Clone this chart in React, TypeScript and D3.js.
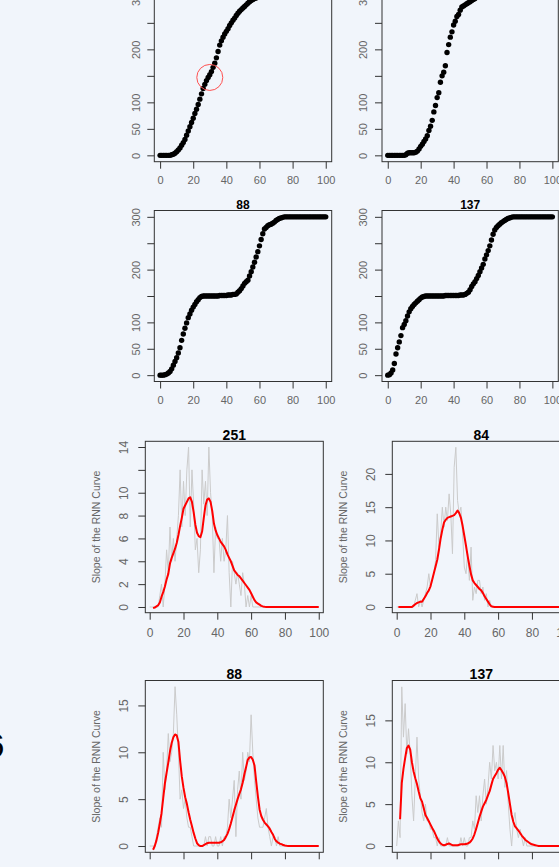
import React, { useEffect, useRef } from "react";
import * as d3 from "d3";

const W = 559;
const H = 867;
const BG = "#f1f5fb";
const AXIS = "#333";
const LABEL = "#666";
const FONT = "'Liberation Sans', Arial, sans-serif";

const xTicks = [0, 20, 40, 60, 80, 100];
const cumTicks = [0, 50, 100, 150, 200, 250, 300];
const cumLabels = [0, 50, 100, 200, 300];

// cumulative curves, one value per time step 0..100
const cum251 = [
  0, 0, 0, 0, 0, 0, 0, 1, 2, 4,
  7, 10, 14, 19, 24, 30, 38, 46, 54, 62,
  70, 79, 87, 96, 106, 116, 126, 134, 141, 147,
  152, 158, 166, 174, 184, 196, 208, 216, 223, 229,
  234, 239, 245, 250, 255, 259, 264, 268, 272, 275,
  278, 281, 284, 287, 290, 292, 294, 296, 297, 298,
  299, 300, 300, 300, 300, 300, 300, 300, 300, 300,
  300, 300, 300, 300, 300, 300, 300, 300, 300, 300,
  300, 300, 300, 300, 300, 300, 300, 300, 300, 300,
  300, 300, 300, 300, 300, 300, 300, 300, 300, 300,
  300,
];
const cum84 = [
  0, 0, 0, 0, 0, 0, 0, 0, 0, 0,
  0, 1, 4, 5, 5, 5, 5, 6, 8, 12,
  17, 21, 26, 31, 37, 47, 55, 66, 82, 94,
  109, 118, 138, 150, 157, 169, 194, 209, 223, 233,
  246, 253, 262, 266, 274, 280, 282, 284, 286, 288,
  290, 292, 294, 296, 298, 299, 300, 300, 300, 300,
  300, 300, 300, 300, 300, 300, 300, 300, 300, 300,
  300, 300, 300, 300, 300, 300, 300, 300, 300, 300,
  300, 300, 300, 300, 300, 300, 300, 300, 300, 300,
  300, 300, 300, 300, 300, 300, 300, 300, 300, 300,
  300,
];
const cum88 = [
  0, 0, 0, 1, 2, 4, 7, 12, 19, 26,
  33, 42, 52, 66, 78, 89, 99, 109, 116, 123,
  129, 134, 139, 143, 147, 149, 150, 150, 150, 150,
  150, 150, 150, 150, 150, 150, 151, 151, 151, 151,
  151, 152, 152, 152, 153, 153, 154, 157, 160, 164,
  169, 174, 177, 180, 188, 196, 205, 214, 224, 234,
  245, 257, 268, 277, 280, 283, 285, 286, 288, 290,
  293, 295, 297, 298, 299, 300, 300, 300, 300, 300,
  300, 300, 300, 300, 300, 300, 300, 300, 300, 300,
  300, 300, 300, 300, 300, 300, 300, 300, 300, 300,
  300,
];
const cum137 = [
  0, 1, 4, 10, 22, 40, 52, 63, 75, 90,
  96, 103, 112, 120, 126, 130, 134, 137, 140, 143,
  146, 148, 149, 150, 150, 150, 150, 150, 150, 150,
  150, 150, 150, 150, 150, 151, 151, 151, 151, 151,
  151, 151, 151, 151, 152, 152, 152, 153, 155, 157,
  162, 168, 173, 177, 183, 189, 196, 203, 210, 220,
  228, 236, 245, 256, 267, 275, 280, 283, 286, 289,
  291, 293, 295, 297, 298, 299, 300, 300, 300, 300,
  300, 300, 300, 300, 300, 300, 300, 300, 300, 300,
  300, 300, 300, 300, 300, 300, 300, 300, 300, 300,
  300,
];

// raw slope (grey)
const raw251 = [
  0, 0, 0, 0, 0, 0, 1, 2, 0, 2,
  5, 3, 7, 4, 6, 4, 6, 8, 12, 7,
  11, 8, 12, 14, 7, 12, 9, 5, 6, 3,
  5, 12, 9, 11, 8, 14, 10, 8, 3, 7,
  6, 6, 4, 6, 4, 5, 8, 3, 0, 4,
  3, 2, 3, 2, 1, 3, 2, 0, 1, 0,
  1, 0, 0, 0, 0, 0, 0, 0, 0, 0,
  0, 0, 0, 0, 0, 0, 0, 0, 0, 0,
  0, 0, 0, 0, 0, 0, 0, 0, 0, 0,
  0, 0, 0, 0, 0, 0, 0, 0, 0, 0,
  0,
];
const raw84 = [
  0, 0, 0, 0, 0, 0, 0, 0, 0, 0,
  0, 1, 2, 0, 1, 0, 1, 2, 3, 5,
  3, 4, 5, 7, 14, 9, 11, 15, 12, 15,
  13, 17, 14, 8, 21, 24, 16, 14, 15, 11,
  6, 5, 8, 4, 9, 1, 3, 2, 4, 4,
  2, 3, 1, 2, 0, 1, 0, 0, 0, 0,
  0, 0, 0, 0, 0, 0, 0, 0, 0, 0,
  0, 0, 0, 0, 0, 0, 0, 0, 0, 0,
  0, 0, 0, 0, 0, 0, 0, 0, 0, 0,
  0, 0, 0, 0, 0, 0, 0, 0, 0, 0,
  0,
];
const raw88 = [
  0, 0, 0, 0, 1, 2, 3, 2, 10, 6,
  8, 12, 9, 10, 12, 17, 14, 10, 5, 6,
  4, 5, 3, 2, 2, 1, 0, 0, 0, 0,
  0, 0, 0, 1, 0, 1, 1, 0, 0, 1,
  0, 0, 1, 0, 1, 1, 2, 5, 3, 5,
  7, 1, 6, 8, 5, 10, 7, 8, 10, 9,
  14, 10, 7, 5, 3, 2, 2, 2, 3, 4,
  2, 1, 0, 1, 1, 0, 1, 0, 0, 0,
  0, 0, 0, 0, 0, 0, 0, 0, 0, 0,
  0, 0, 0, 0, 0, 0, 0, 0, 0, 0,
  0,
];
const raw137 = [
  0, 3, 1, 19, 13, 17, 11, 14, 11, 6,
  3, 8, 13, 8, 6, 4, 3, 5, 3, 3,
  2, 2, 1, 1, 0, 1, 0, 0, 0, 0,
  1, 0, 0, 0, 0, 0, 0, 0, 1, 0,
  1, 0, 0, 1, 1, 3, 2, 6, 4, 6,
  3, 6, 8, 5, 7, 10, 8, 12, 9, 10,
  8, 12, 8, 12, 7, 9, 5, 2, 0, 3,
  4, 2, 1, 2, 1, 0, 1, 0, 0, 0,
  0, 0, 0, 0, 0, 0, 0, 0, 0, 0,
  0, 0, 0, 0, 0, 0, 0, 0, 0, 0,
  0,
];

// smoothed slope (red)
const red251 = [
  null, null, -0.1, -0.05, 0.05, 0.15, 0.4, 0.9, 1.3, 1.8,
  2.4, 2.9, 3.8, 4.3, 4.7, 5.1, 5.6, 6.3, 7.1, 7.8,
  8.6, 8.9, 9.2, 9.5, 9.6, 9.2, 8.3, 7.2, 6.5, 6.2,
  6.1, 6.6, 7.8, 8.9, 9.4, 9.5, 9.2, 8.4, 7.3, 6.7,
  6.3, 6.0, 5.7, 5.5, 5.3, 5.0, 4.6, 4.3, 4.0, 3.6,
  3.2, 3.0, 2.8, 2.7, 2.5, 2.3, 2.1, 1.9, 1.7, 1.5,
  1.2, 0.9, 0.6, 0.4, 0.3, 0.2, 0.1, 0.05, 0.02, 0,
  0, 0, 0, 0, 0, 0, 0, 0, 0, 0,
  0, 0, 0, 0, 0, 0, 0, 0, 0, 0,
  0, 0, 0, 0, 0, 0, 0, 0, 0, 0,
  0,
];
const red84 = [
  null, 0, 0, 0, 0, 0, 0, 0, 0, 0,
  0.2, 0.4, 0.6, 0.7, 0.8, 0.8, 1.2, 1.6, 2.1, 2.5,
  3.1, 4.1, 5.1, 6.1, 7.1, 8.6, 10.3, 11.6, 12.7, 13.1,
  13.4, 13.5, 13.6, 13.7, 13.8, 14.1, 14.5, 14.1, 13.4, 12.2,
  10.7, 9.2, 7.6, 6.2, 4.9, 4.0, 3.6, 3.3, 3.0, 2.7,
  2.5, 2.1, 1.6, 1.2, 0.8, 0.4, 0.1, 0.05, 0, 0,
  0, 0, 0, 0, 0, 0, 0, 0, 0, 0,
  0, 0, 0, 0, 0, 0, 0, 0, 0, 0,
  0, 0, 0, 0, 0, 0, 0, 0, 0, 0,
  0, 0, 0, 0, 0, 0, 0, 0, 0, 0,
  0,
];
const red88 = [
  null, null, -0.4, 0, 0.6, 1.4, 2.4, 3.5, 5.1, 6.7,
  7.8, 8.9, 10.1, 11, 11.6, 11.9, 11.8, 11.1, 9.1, 7.4,
  6.2, 5.2, 4.5, 3.6, 2.8, 2.1, 1.4, 0.8, 0.3, 0.1,
  0, 0, 0.1, 0.2, 0.3, 0.35, 0.35, 0.35, 0.35, 0.35,
  0.35, 0.35, 0.4, 0.5, 0.65, 0.95, 1.3, 1.8, 2.4, 3.1,
  3.8, 4.4, 5.0, 5.55, 6.05, 6.75, 7.65, 8.4, 9.2, 9.45,
  9.5, 9.2, 8.6, 6.9, 5.3, 3.9, 3.2, 2.8, 2.5, 2.3,
  2.1, 1.85, 1.5, 1.2, 0.75, 0.5, 0.35, 0.25, 0.2, 0.1,
  0.05, 0.02, 0, 0, 0, 0, 0, 0, 0, 0,
  0, 0, 0, 0, 0, 0, 0, 0, 0, 0,
  0,
];
const red137 = [
  null, null, 3.2, 7.5, 9.2, 10.5, 11.7, 12, 11.5, 10,
  8.9, 8.1, 7.4, 6.5, 5.7, 5.3, 4.5, 3.7, 3.35, 2.95,
  2.55, 2.15, 1.8, 1.35, 0.9, 0.55, 0.3, 0.15, 0.1, 0.15,
  0.25, 0.3, 0.2, 0.1, 0.1, 0.1, 0.1, 0.15, 0.2, 0.2,
  0.2, 0.25, 0.3, 0.4, 0.6, 0.9, 1.4, 2.05, 2.75, 3.5,
  4.1, 4.7, 5.1, 5.5, 6.05, 6.55, 7.3, 8.0, 8.35, 8.7,
  9.1, 9.35, 9.05, 8.7, 8.25, 7.5, 6.3, 5.0, 3.7, 2.9,
  2.35, 2.1, 1.85, 1.55, 1.25, 1.0, 0.75, 0.6, 0.45, 0.3,
  0.2, 0.15, 0.1, 0.05, 0, 0, 0, 0, 0, 0,
  0, 0, 0, 0, 0, 0, 0, 0, 0, 0,
  0,
];

const cumPanels = [
  { title: "251", data: cum251, box: { left: 154.3, top: -10, right: 331.7, bottom: 161.7 }, mark: [30, 147] },
  { title: "84", data: cum84, box: { left: 382, top: -10, right: 558.3, bottom: 161.7 } },
  { title: "88", data: cum88, box: { left: 154.3, top: 210.5, right: 331.7, bottom: 381.5 } },
  { title: "137", data: cum137, box: { left: 382, top: 210.5, right: 558.3, bottom: 381.5 } },
];

const slopePanels = [
  {
    title: "251", raw: raw251, smooth: red251, yDomain: [-0.5, 14.5],
    ticks: [0, 2, 4, 6, 8, 10, 12, 14], labels: [0, 2, 4, 6, 8, 10, 14],
    box: { left: 145.3, top: 441.3, right: 323.3, bottom: 612.7 },
  },
  {
    title: "84", raw: raw84, smooth: red84, yDomain: [-0.86, 24.9],
    ticks: [0, 5, 10, 15, 20], labels: [0, 5, 10, 15, 20],
    box: { left: 392.3, top: 441.3, right: 570.3, bottom: 612.7 },
  },
  {
    title: "88", raw: raw88, smooth: red88, yDomain: [-0.67, 17.66],
    ticks: [0, 5, 10, 15], labels: [0, 5, 10, 15],
    box: { left: 145.3, top: 680.5, right: 323.3, bottom: 852.3 },
  },
  {
    title: "137", raw: raw137, smooth: red137, yDomain: [-0.75, 19.76],
    ticks: [0, 5, 10, 15], labels: [0, 5, 10, 15],
    box: { left: 392.3, top: 680.5, right: 570.3, bottom: 852.3 },
  },
];

function drawFrame(g, x, y, box, yTicks, yLabels, opts) {
  const { fontSize, xPad, yOff, titleSize, title } = opts;

  g.append("rect")
    .attr("x", box.left)
    .attr("y", box.top)
    .attr("width", box.right - box.left)
    .attr("height", box.bottom - box.top)
    .attr("fill", "none")
    .attr("stroke", AXIS)
    .attr("stroke-width", 1);

  const xa = g
    .append("g")
    .attr("transform", `translate(0,${box.bottom})`)
    .call(d3.axisBottom(x).tickValues(xTicks).tickSize(7).tickPadding(xPad));
  xa.select(".domain").remove();
  xa.selectAll("line").attr("stroke", AXIS);
  xa.selectAll("text")
    .attr("fill", LABEL)
    .style("font-family", FONT)
    .style("font-size", fontSize + "px");

  const ya = g
    .append("g")
    .attr("transform", `translate(${box.left},0)`)
    .call(
      d3
        .axisLeft(y)
        .tickValues(yTicks)
        .tickSize(7)
        .tickFormat((d) => (yLabels.includes(d) ? String(d) : ""))
    );
  ya.select(".domain").remove();
  ya.selectAll("line").attr("stroke", AXIS);
  ya.selectAll("text")
    .attr("fill", LABEL)
    .attr("x", 0)
    .attr("dy", null)
    .attr("y", -yOff + fontSize * 0.36)
    .attr("transform", "rotate(-90)")
    .attr("text-anchor", "middle")
    .style("font-family", FONT)
    .style("font-size", fontSize + "px");

  g.append("text")
    .attr("x", (box.left + box.right) / 2)
    .attr("y", box.top - 1.5)
    .attr("text-anchor", "middle")
    .attr("fill", "#000")
    .style("font-family", FONT)
    .style("font-weight", "bold")
    .style("font-size", titleSize + "px")
    .text(title);
}

export default function App() {
  const ref = useRef(null);

  useEffect(() => {
    const svg = d3.select(ref.current);
    svg.selectAll("*").remove();

    svg.append("rect").attr("width", W).attr("height", H).attr("fill", BG);

    // cumulative panels (top two rows)
    cumPanels.forEach((p) => {
      const { box } = p;
      const x = d3.scaleLinear().domain([-3.5, 103.6]).range([box.left, box.right]);
      const y = d3.scaleLinear().domain([-12, 312]).range([box.bottom, box.top]);
      const g = svg.append("g");

      drawFrame(g, x, y, box, cumTicks, cumLabels, {
        fontSize: 11, xPad: 8, yOff: 18.5, titleSize: 12, title: p.title,
      });

      g.append("g")
        .selectAll("circle")
        .data(p.data)
        .join("circle")
        .attr("cx", (d, i) => x(i))
        .attr("cy", (d) => y(d))
        .attr("r", 2.7)
        .attr("fill", "#000");

      if (p.mark) {
        g.append("circle")
          .attr("cx", x(p.mark[0]))
          .attr("cy", y(p.mark[1]))
          .attr("r", 13)
          .attr("fill", "none")
          .attr("stroke", "#ff5050")
          .attr("stroke-width", 1);
      }
    });

    // slope panels (bottom two rows)
    slopePanels.forEach((p) => {
      const { box } = p;
      const x = d3.scaleLinear().domain([-2.6, 102.7]).range([box.left, box.right]);
      const y = d3.scaleLinear().domain(p.yDomain).range([box.bottom, box.top]);
      const g = svg.append("g");

      drawFrame(g, x, y, box, p.ticks, p.labels, {
        fontSize: 12, xPad: 9, yOff: 21.5, titleSize: 14, title: p.title,
      });

      g.append("text")
        .attr("transform", `translate(${box.left - 45},${(box.top + box.bottom) / 2}) rotate(-90)`)
        .attr("text-anchor", "middle")
        .attr("fill", LABEL)
        .style("font-family", FONT)
        .style("font-size", "10.5px")
        .text("Slope of the RNN Curve");

      const line = d3
        .line()
        .defined((d) => d[1] != null)
        .x((d) => x(d[0]))
        .y((d) => y(d[1]));

      g.append("path")
        .attr("d", line(p.raw.map((v, i) => [i, v])))
        .attr("fill", "none")
        .attr("stroke", "#cbcbcb")
        .attr("stroke-width", 1);

      g.append("path")
        .attr("d", line(p.smooth.map((v, i) => [i, v])))
        .attr("fill", "none")
        .attr("stroke", "#ff0000")
        .attr("stroke-width", 2)
        .attr("stroke-linejoin", "round");
    });

    // partial glyph cut off at the left edge
    svg.append("text")
      .attr("x", -14.5)
      .attr("y", 757)
      .attr("fill", "#000")
      .style("font-family", FONT)
      .style("font-size", "34px")
      .text("6");
  }, []);

  return (
    <svg
      ref={ref}
      width={W}
      height={H}
      style={{ position: "absolute", left: 0, top: 0, display: "block" }}
    />
  );
}
